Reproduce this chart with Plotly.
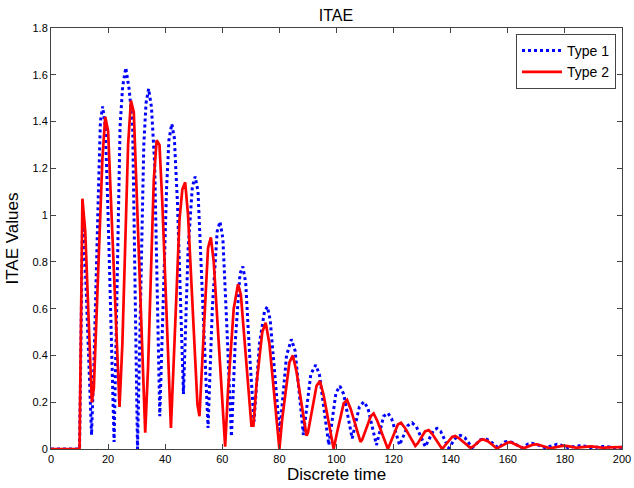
import plotly.graph_objects as go

# ---- data ----
type1_x = [0, 10, 11, 11.5, 14.2, 15, 16.5, 17.3, 18.1, 19, 20, 22.1, 23, 24.2, 25.1, 26.2, 27.4, 28.6,
           30.3, 31.5, 32.5, 33.3, 34.2, 35.2, 36.3, 38.1, 39.5, 40.5, 41.3, 42.3, 43.2, 44.3, 46.4,
           48, 49.5, 50.5, 51.5, 52.8, 55, 56.5, 58.2, 59.2, 60.2, 61.5, 63.2, 64.5, 66.2, 67.2, 68.2,
           69.5, 71.1, 73, 74.8, 75.8, 76.8, 80.1, 82.5, 84.2, 85.5, 88.4, 91, 92.7, 94, 97.3, 99.8,
           101.2, 102.5, 105.5, 108, 109.6, 111, 114, 116.5, 118, 119.3, 122.1, 125, 126.5, 128, 131.1,
           134, 135.2, 136.5, 139.3, 142, 143.4, 145, 147.5, 150.5, 152.1, 153.5, 156.7, 159, 160.2,
           161.5, 165, 167, 168.4, 170, 173.1, 176, 177.2, 178.5, 181.2, 184, 185.3, 187, 189.5, 192.5,
           193.8, 195.5, 198, 200]
type1_y = [0, 0, 0.93, 0.95, 0.06, 0.35, 1.05, 1.40, 1.465, 1.38, 1.0, 0.03, 0.6, 1.38, 1.55, 1.63, 1.535, 1.38,
           0.0, 0.75, 1.3, 1.48, 1.54, 1.46, 1.22, 0.14, 0.75, 1.12, 1.32, 1.39, 1.33, 1.05, 0.235,
           0.85, 1.12, 1.165, 1.1, 0.75, 0.09, 0.6, 0.93, 0.972, 0.9, 0.55, 0.053, 0.45, 0.75, 0.78, 0.71,
           0.42, 0.117, 0.45, 0.59, 0.608, 0.55, 0.07, 0.40, 0.469, 0.42, 0.06, 0.32, 0.359, 0.32, 0.017, 0.24,
           0.269, 0.235, 0.045, 0.18, 0.202, 0.175, 0.017, 0.14, 0.153, 0.13, 0.017, 0.10, 0.112, 0.095, 0.01,
           0.08, 0.088, 0.075, 0.003, 0.052, 0.058, 0.048, 0.005, 0.04, 0.044, 0.037, 0.004, 0.03, 0.033,
           0.028, 0.005, 0.021, 0.024, 0.02, 0.005, 0.018, 0.02, 0.017, 0.005, 0.013, 0.014, 0.012, 0.005, 0.01,
           0.011, 0.009, 0.005, 0.008]

type2_x = [0, 10, 11, 12, 14.3, 15, 18, 19, 20, 21, 24, 25, 27, 28, 29, 30, 33, 34, 36, 37, 38, 39, 42, 43,
           45, 46, 47, 48, 51.3, 52, 53, 55, 56, 57, 61, 62, 64, 65.5, 66.5, 70.2, 70.9, 72, 74, 75.2, 76.5,
           80, 81, 83.5, 84.7, 86, 89.5, 90, 93, 94.2, 95.5, 99, 100, 102.5, 103.7, 105, 108.4, 109, 112,
           113, 114.3, 118, 119, 121.5, 122.6, 124, 127.6, 128.5, 131, 132.3, 133.5, 137, 138, 140.5, 141.6,
           143, 146.9, 148, 150.5, 151.5, 153, 156.2, 157, 160, 161, 162, 165.5, 166.5, 169, 170.2, 171.5,
           174.8, 176, 178.5, 179.5, 181, 184.2, 185, 188, 189, 190, 193.5, 195, 198, 200]
type2_y = [0, 0, 1.07, 0.93, 0.20, 0.26, 1.24, 1.42, 1.36, 1.05, 0.18, 0.45, 1.30, 1.49, 1.44, 1.1, 0.07, 0.35,
           1.15, 1.32, 1.30, 1.05, 0.09, 0.38, 0.98, 1.11, 1.14, 1.0, 0.19, 0.14, 0.38, 0.86, 0.905, 0.80,
           0.01, 0.25, 0.60, 0.705, 0.66, 0.10, 0.10, 0.28, 0.50, 0.54, 0.45, 0.0, 0.13, 0.37, 0.40, 0.33,
           0.057, 0.07, 0.27, 0.29, 0.23, 0.0, 0.06, 0.195, 0.21, 0.17, 0.03, 0.04, 0.14, 0.152, 0.12, 0.0,
           0.03, 0.105, 0.112, 0.09, 0.013, 0.025, 0.075, 0.081, 0.065, 0.0, 0.015, 0.052, 0.056, 0.045,
           0.005, 0.012, 0.039, 0.041, 0.033, 0.002, 0.008, 0.028, 0.029, 0.024, 0.003, 0.008, 0.019, 0.02,
           0.016, 0.003, 0.006, 0.013, 0.014, 0.012, 0.005, 0.007, 0.011, 0.011, 0.01, 0.005, 0.007, 0.008,
           0.008]

x_ticks = [0, 20, 40, 60, 80, 100, 120, 140, 160, 180, 200]
y_ticks = [0, 0.2, 0.4, 0.6, 0.8, 1, 1.2, 1.4, 1.6, 1.8]
y_tick_labels = ["0", "0.2", "0.4", "0.6", "0.8", "1", "1.2", "1.4", "1.6", "1.8"]

FONT = "Liberation Sans, Arial, sans-serif"

fig = go.Figure()
fig.add_trace(go.Scatter(x=type1_x, y=type1_y, mode="lines", name="Type 1",
                         line=dict(color="#0000ff", width=3, dash="dot")))
fig.add_trace(go.Scatter(x=type2_x, y=type2_y, mode="lines", name="Type 2",
                         line=dict(color="#ff0000", width=2.7)))

axis_common = dict(showline=True, linecolor="#444", linewidth=1, mirror="ticks",
                   ticks="inside", ticklen=5, tickcolor="#444", showgrid=False, zeroline=False,
                   automargin=False,
                   tickfont=dict(family=FONT, size=11, color="#000"))

fig.update_layout(
    width=634, height=488,
    margin=dict(l=51, r=12, t=28, b=39),
    paper_bgcolor="white", plot_bgcolor="white",
    title=dict(text="ITAE", x=0.53, xanchor="center", y=0.969, yanchor="middle",
               font=dict(family=FONT, size=16, color="#000")),
    xaxis=dict(range=[0, 200], tickvals=x_ticks, title=dict(text="Discrete time", standoff=3,
               font=dict(family=FONT, size=17, color="#000")), **axis_common),
    yaxis=dict(range=[0, 1.8], tickvals=y_ticks, ticktext=y_tick_labels,
               title=dict(text="ITAE Values", standoff=9, font=dict(family=FONT, size=17, color="#000")),
               **axis_common),
    legend=dict(x=0.9895, xanchor="right", y=0.9857, yanchor="top", bgcolor="white",
                bordercolor="#444", borderwidth=1, font=dict(family=FONT, size=14, color="#000"),
                tracegroupgap=0, itemwidth=40),
    showlegend=True,
)

fig.write_html("out.html", config={"displayModeBar": False},
               post_script="document.body.style.margin='0';document.body.style.overflow='hidden';")
